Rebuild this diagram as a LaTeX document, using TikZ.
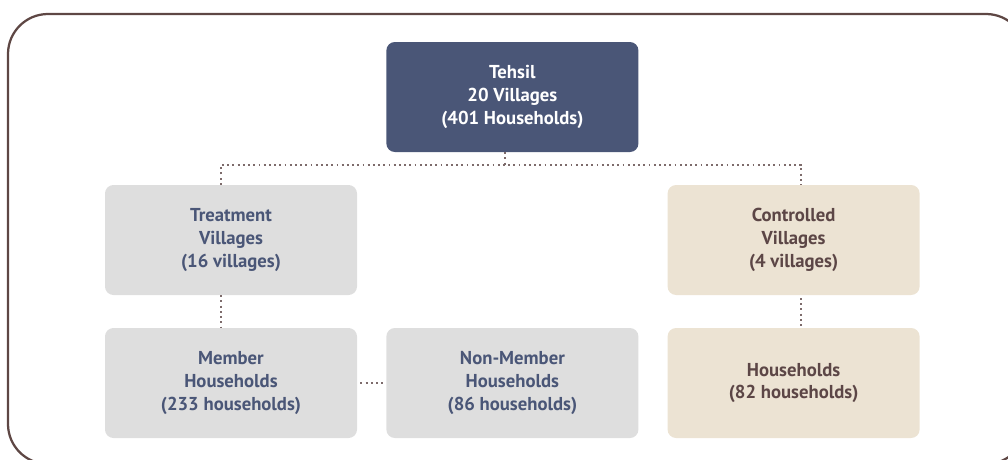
\documentclass[tikz,border=0pt]{standalone}
\usepackage{fontspec}
\setmainfont{PT Sans}
\usepackage{tikz}
\usetikzlibrary{positioning}

\definecolor{navy}{HTML}{4A5677}
\definecolor{greybox}{HTML}{DEDEDE}
\definecolor{tanbox}{HTML}{ECE3D3}
\definecolor{brownink}{HTML}{5C4646}
\definecolor{framecol}{HTML}{5E4744}
\definecolor{dotcol}{HTML}{7D6B6B}

\tikzset{
  box/.style={shape=rectangle, rounded corners=6pt, minimum width=6.3cm, minimum height=2.75cm,
    align=center, font=\bfseries\fontsize{13.3}{16.2}\selectfont},
  topbox/.style={box, fill=navy, text=white},
  treatbox/.style={box, fill=greybox, text=navy},
  ctrlbox/.style={box, fill=tanbox, text=brownink},
  link/.style={draw=dotcol, line width=1.3pt, dash pattern=on 1.3pt off 2.4pt}
}

\begin{document}
\begin{tikzpicture}
        \useasboundingbox (0,0) rectangle (25.2,-11.475);
        \draw[framecol, line width=1.6pt, rounded corners=1cm] (0.2,-0.35) rectangle (25.65,-11.6);

        \node[topbox] (tehsil) at (12.81,-2.425) {Tehsil\\20 Villages\\(401 Households)};

        \node[treatbox] (treat) at (5.775,-6.0) {Treatment\\Villages\\(16 villages)};
        \node[ctrlbox] (ctrl) at (19.84,-6.0) {Controlled\\Villages\\(4 villages)};

        \node[treatbox] (member) at (5.775,-9.575) {Member\\Households\\(233 households)};
        \node[treatbox] (nonmember) at (12.81,-9.575) {Non-Member\\Households\\(86 households)};
        \node[ctrlbox] (hh) at (19.84,-9.575) {Households\\(82 households)};

        \coordinate (busL) at (5.525,-4.125);
        \coordinate (busR) at (20.03,-4.125);

        \path[link] ([xshift=-0.18cm]tehsil.south) -- ([xshift=-0.18cm]tehsil.south |- busL);
        \path[link] (busL |- treat.north) -- (busL) -- (busR) -- (busR |- ctrl.north);
        \path[link] (busL |- treat.south) -- (busL |- member.north);
        \path[link] ([yshift=-0.07cm]busR |- ctrl.south) -- (busR |- hh.north);
        \path[link] (member.east) edge[shorten <=0.08cm, shorten >=0.05cm] (nonmember.west);
    \end{tikzpicture}
\end{document}
